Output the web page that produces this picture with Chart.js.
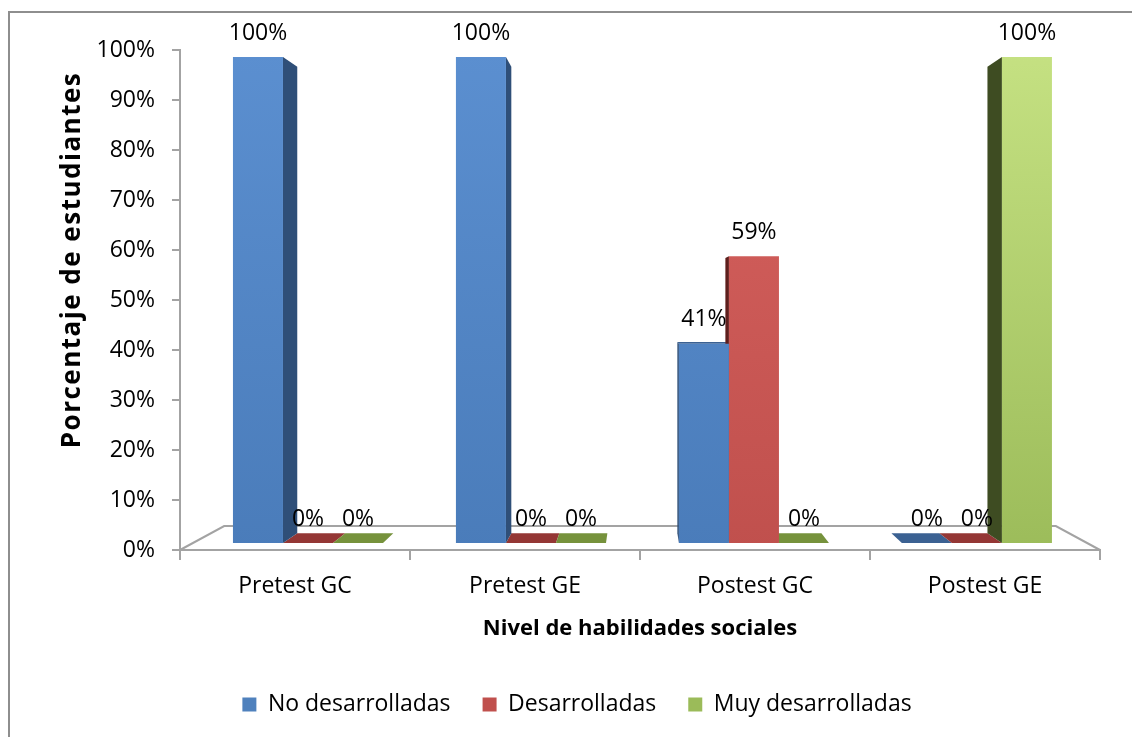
<!DOCTYPE html>
<html lang="es">
<head>
<meta charset="utf-8">
<title>Nivel de habilidades sociales</title>
<script src="https://cdn.jsdelivr.net/npm/chart.js@4.4.1/dist/chart.umd.min.js"></script>
<style>
  html, body { margin: 0; padding: 0; background: #ffffff; }
  #wrap { width: 1132px; height: 737px; position: relative; }
</style>
</head>
<body>
<div id="wrap"><canvas id="chart" width="1132" height="737"></canvas></div>
<script>
// Categories and series values (percent of students)
const categories = ['Pretest GC', 'Pretest GE', 'Postest GC', 'Postest GE'];
const seriesNames = ['No desarrolladas', 'Desarrolladas', 'Muy desarrolladas'];
const noDesarrolladas = [100, 100, 41, 0];
const desarrolladas = [0, 0, 59, 0];
const muyDesarrolladas = [0, 0, 0, 100];
const yTickValues = [0, 10, 20, 30, 40, 50, 60, 70, 80, 90, 100];
const xTitle = 'Nivel de habilidades sociales';
const yTitle = 'Porcentaje de estudiantes';

// Colours for each series: front gradient (top, bottom), side face, top face, legend swatch
const palette = [
  { light: '#5b8fd0', dark: '#4a7cba', side: '#2f4f78', top: '#3b6192', swatch: '#4f81bd' },
  { light: '#d7625f', dark: '#c0504d', side: '#5e1f1d', top: '#943735', swatch: '#c0504d' },
  { light: '#c5e182', dark: '#9cbc5a', side: '#3e4c22', top: '#76923c', swatch: '#9bbb59' }
];
const seriesValues = [noDesarrolladas, desarrolladas, muyDesarrolladas];

const FONT = '"Open Sans", "Noto Sans", sans-serif';
const TEXT_SIZE = 23;
const AXIS_GREY = '#a3a3a3';
const BAR_DEPTH = 0.04;    // depth of a column, as a fraction of the way to the vanishing point
const FLOOR_DEPTH = 0.096; // depth of the floor

function vanishingPoint(chart) {
  const a = chart.chartArea;
  return { x: (a.left + a.right) / 2, y: (a.top + a.bottom) / 2 };
}
function project(p, vp, k) {
  return { x: p.x + k * (vp.x - p.x), y: p.y + k * (vp.y - p.y) };
}
function poly(ctx, pts, color) {
  ctx.beginPath();
  ctx.moveTo(pts[0].x, pts[0].y);
  for (let i = 1; i < pts.length; i++) ctx.lineTo(pts[i].x, pts[i].y);
  ctx.closePath();
  ctx.fillStyle = color;
  ctx.fill();
}

// White page with the outer frame
const frame = {
  id: 'frame',
  beforeDraw(chart) {
    const ctx = chart.ctx;
    ctx.save();
    ctx.fillStyle = '#ffffff';
    ctx.fillRect(0, 0, chart.width, chart.height);
    ctx.strokeStyle = '#8e8e8e';
    ctx.lineWidth = 2;
    ctx.strokeRect(9, 12, chart.width + 40, chart.height + 40);
    ctx.restore();
  }
};

// Floor outline and the depth faces of each column
const depth = {
  id: 'depth',
  beforeDatasetsDraw(chart) {
    const ctx = chart.ctx;
    const a = chart.chartArea;
    const vp = vanishingPoint(chart);
    const fl = { x: a.left, y: a.bottom }, fr = { x: a.right, y: a.bottom };
    const bl = project(fl, vp, FLOOR_DEPTH), br = project(fr, vp, FLOOR_DEPTH);
    ctx.save();
    ctx.strokeStyle = AXIS_GREY;
    ctx.lineWidth = 2;
    ctx.beginPath();
    ctx.moveTo(fl.x, fl.y);
    ctx.lineTo(bl.x, bl.y);
    ctx.lineTo(br.x, br.y);
    ctx.lineTo(fr.x, fr.y);
    ctx.stroke();

    // top faces first, then side faces
    const bars = [];
    chart.data.datasets.forEach((ds, di) => {
      chart.getDatasetMeta(di).data.forEach(el => {
        const p = el.getProps(['x', 'y', 'base', 'width'], true);
        bars.push({ p, c: palette[di] });
      });
    });
    bars.forEach(({ p, c }) => {
      const x0 = p.x - p.width / 2, x1 = p.x + p.width / 2;
      const top = Math.min(p.y, p.base);
      if (top > vp.y) {
        const a0 = { x: x0, y: top }, a1 = { x: x1, y: top };
        poly(ctx, [a0, a1, project(a1, vp, BAR_DEPTH), project(a0, vp, BAR_DEPTH)], c.top);
      }
    });
    bars.forEach(({ p, c }) => {
      const x0 = p.x - p.width / 2, x1 = p.x + p.width / 2;
      const top = Math.min(p.y, p.base), bot = Math.max(p.y, p.base);
      if (bot - top < 0.5) return;
      const edge = x1 < vp.x ? x1 : (x0 > vp.x ? x0 : null);
      if (edge === null) return;
      const t = { x: edge, y: top }, b = { x: edge, y: bot };
      poly(ctx, [t, project(t, vp, BAR_DEPTH), project(b, vp, BAR_DEPTH), b], c.side);
    });
    ctx.restore();
  }
};

// Value labels above each column, and the rotated y-axis title
const labels = {
  id: 'labels',
  afterDatasetsDraw(chart) {
    const ctx = chart.ctx;
    ctx.save();
    ctx.font = TEXT_SIZE + 'px ' + FONT;
    ctx.fillStyle = '#000000';
    ctx.textAlign = 'center';
    ctx.textBaseline = 'middle';
    chart.data.datasets.forEach((ds, di) => {
      chart.getDatasetMeta(di).data.forEach((el, i) => {
        const v = seriesValues[di][i];
        ctx.fillText(v + '%', el.x, el.y - 24);
      });
    });
    ctx.restore();
  },
  afterDraw(chart) {
    const ctx = chart.ctx;
    const a = chart.chartArea;
    ctx.save();
    ctx.translate(a.left - 107, (a.top + a.bottom) / 2 - 40);
    ctx.rotate(-Math.PI / 2);
    ctx.font = 'bold 26px ' + FONT;
    ctx.letterSpacing = '1.5px';
    ctx.fillStyle = '#000000';
    ctx.textAlign = 'center';
    ctx.textBaseline = 'middle';
    ctx.fillText(yTitle, 0, 0);
    ctx.restore();
  },
  afterLayout(chart) {
    // move the legend row a little to the right, under the columns
    if (chart.legend) { chart.legend.left += 27; chart.legend.right += 27; }
  }
};

function frontGradient(context, c) {
  const chart = context.chart;
  const a = chart.chartArea;
  if (!a) return c.dark;
  const g = chart.ctx.createLinearGradient(0, a.top, 0, a.bottom);
  g.addColorStop(0, c.light);
  g.addColorStop(1, c.dark);
  return g;
}

const datasets = seriesNames.map((name, di) => ({
  label: name,
  data: seriesValues[di].map((v, i) => ({ x: i, y: v })),
  xAxisID: 'xb',
  yAxisID: 'yb',
  backgroundColor: ctx => frontGradient(ctx, palette[di]),
  borderWidth: 0,
  categoryPercentage: 0.673,
  barPercentage: 1
}));

new Chart(document.getElementById('chart'), {
  type: 'bar',
  data: { labels: categories, datasets },
  plugins: [frame, depth, labels],
  options: {
    responsive: false,
    animation: false,
    devicePixelRatio: 1,
    layout: { padding: { left: 0, right: 32, top: 50, bottom: 11 } },
    scales: {
      x: {
        type: 'category',
        offset: true,
        border: { display: true, color: AXIS_GREY, width: 2 },
        grid: { offset: true, drawOnChartArea: false, drawTicks: true, tickLength: 10, color: AXIS_GREY, lineWidth: 2 },
        ticks: { color: '#000', font: { family: FONT, size: TEXT_SIZE }, padding: 13, maxRotation: 0 },
        title: { display: true, text: xTitle, color: '#000', font: { family: FONT, size: 22, weight: 'bold' }, padding: { top: 0, bottom: 19 } },
        afterFit(scale) { scale.height = 111; }
      },
      y: {
        type: 'linear',
        min: 0,
        max: 100,
        border: { display: true, color: AXIS_GREY, width: 2 },
        grid: { drawOnChartArea: false, drawTicks: true, tickLength: 8, color: AXIS_GREY, lineWidth: 2 },
        afterBuildTicks(scale) { scale.ticks = yTickValues.map(v => ({ value: v })); },
        ticks: { color: '#000', font: { family: FONT, size: TEXT_SIZE }, padding: 17, callback: v => v + '%' },
        afterFit(scale) { scale.width = 180; }
      },
      // scales the columns are drawn on; the columns stand slightly inside the floor
      xb: {
        type: 'linear',
        display: false,
        offset: false,
        min: -0.574,
        max: 3.552,
        afterBuildTicks(scale) { scale.ticks = categories.map((_, i) => ({ value: i })); }
      },
      yb: {
        type: 'linear',
        display: false,
        min: -1.44,
        max: 101.44
      }
    },
    plugins: {
      legend: {
        position: 'bottom',
        labels: {
          color: '#000',
          font: { family: FONT, size: TEXT_SIZE },
          boxWidth: 14,
          boxHeight: 14,
          padding: 32,
          generateLabels(chart) {
            return chart.data.datasets.map((ds, i) => ({
              text: ds.label,
              fillStyle: palette[i].swatch,
              strokeStyle: palette[i].swatch,
              lineWidth: 0,
              hidden: false,
              datasetIndex: i
            }));
          }
        }
      },
      tooltip: { enabled: false }
    }
  }
});
</script>
</body>
</html>
